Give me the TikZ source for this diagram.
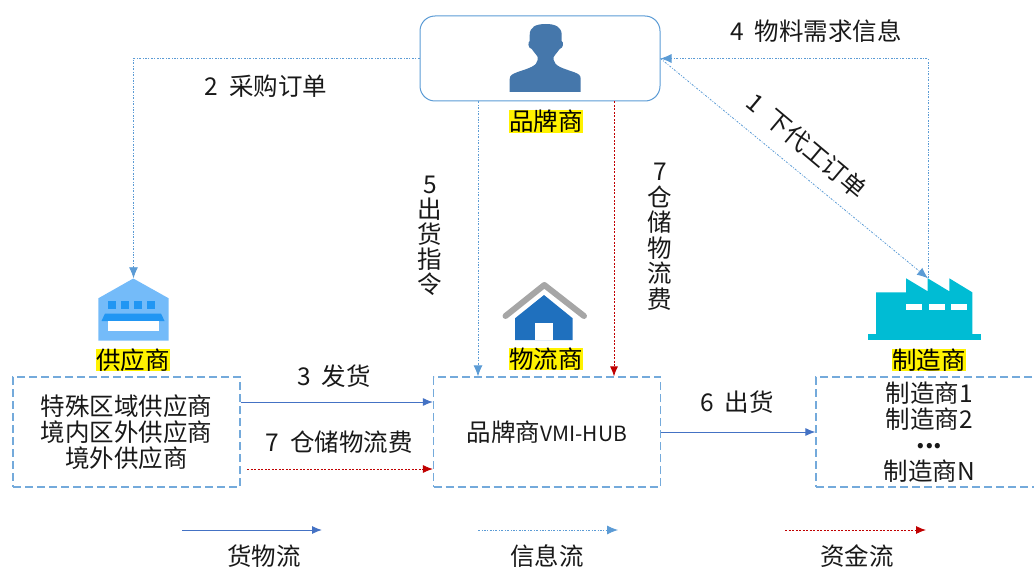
\documentclass[tikz,border=0pt]{standalone}
\usepackage{fontspec}
\setmainfont{Noto Sans CJK SC}
\usetikzlibrary{arrows.meta}
\definecolor{boxblue}{HTML}{5B9BD5}
\definecolor{goodsblue}{HTML}{4472C4}
\definecolor{moneyred}{HTML}{C00000}
\tikzset{
  txt/.style={font=\fontsize{24.5}{26}\selectfont,inner sep=0pt,text=black!90,align=center},
  tag/.style={txt,fill=yellow,inner sep=0pt,text=black},
  partbox/.style={draw=boxblue!85,dash pattern=on 8pt off 4pt,line width=1.2pt,minimum width=227pt,minimum height=110pt,inner sep=0pt},
  iconbox/.style={minimum width=70pt,minimum height=62pt,inner sep=0pt},
  goods/.style={goodsblue,line width=1pt,-{Latex[length=10pt,width=8pt]}},
  info/.style={boxblue,line width=.8pt,dash pattern=on 2pt off 1.5pt on .8pt off 1.5pt,-{Latex[length=11pt,width=9pt]}},
  money/.style={moneyred,line width=.9pt,dash pattern=on 2pt off 1.5pt,-{Latex[length=10pt,width=8pt]}}
}
\begin{document}
\begin{tikzpicture}[x=1pt,y=-1pt]
   \useasboundingbox (0,0) rectangle (1034,567);
   % parts
   \node[draw=boxblue,line width=1pt,rounded corners=15pt,minimum width=240pt,minimum height=85pt] (brand) at (540,58.5) {};
   \node[partbox,txt] (supply) at (126.5,432) {特殊区域供应商\\境内区外供应商\\境外供应商};
   \node[partbox,txt] (hub) at (547,432) {品牌商{\fontsize{21}{26}\selectfont VMI-HUB}};
   \node[partbox,txt] (maker) at (929.5,432) {制造商1\\制造商2\\\raisebox{6pt}{\bfseries ...}\\制造商N};
   \node[iconbox] (supicon) at (133.5,309.5) {};
   \node[iconbox] (makicon) at (928,309.5) {};
   % brand icon
   \begin{scope}[shift={(545.7,0)}]
   \fill[color={rgb,255:red,69;green,119;blue,171}] (0,24) .. controls (-10,24) and (-16,27) .. (-16,35)
      -- (-16,41) .. controls (-18,42) and (-18,48) .. (-14,49) .. controls (-12,52) and (-9,55) .. (-8,57)
      -- (-8,60) .. controls (-9,66) and (-16,68) .. (-28,72) .. controls (-33,74) and (-36,75) .. (-36,79)
      -- (-36,92) -- (35,92) -- (35,79) .. controls (35,75) and (33,74) .. (28,72)
      .. controls (16,68) and (9,66) .. (8,60) -- (8,57) .. controls (9,55) and (12,52) .. (14,49)
      .. controls (18,48) and (18,42) .. (16,41) -- (16,35) .. controls (16,27) and (10,24) .. (0,24) -- cycle;
   \end{scope}
   % supplier icon
   \fill[color={rgb,255:red,116;green,187;blue,249}] (98.3,298.3) -- (133.3,278.5) -- (168.7,298.3) -- (168.7,340.7) -- (98.3,340.7) -- cycle;
   \foreach \wx in {107.7,121,134,147}
      \fill[color={rgb,255:red,33;green,150;blue,243}] (\wx,300.5) rectangle ++(8,8);
   \fill[color={rgb,255:red,33;green,150;blue,243}] (105,313.5) -- (161,313.5) -- (164.5,321) -- (101.5,321) -- cycle;
   \fill[white] (107.7,321) rectangle (159,330.7);
   % house icon
   \draw[color=black!35,line width=6pt,line cap=round,line join=round] (505.5,316) -- (544.3,285) -- (584,316);
   \fill[color={rgb,255:red,31;green,112;blue,190}] (515,318.3) -- (544,295) -- (572.7,318.3) -- (572.7,340) -- (515,340) -- cycle;
   \fill[white] (535,323.3) rectangle (552.7,340);
   % factory icon
   \fill[color={rgb,255:red,0;green,188;blue,212}] (867.7,334.3) rectangle (980.7,340);
   \fill[color={rgb,255:red,0;green,188;blue,212}] (876,334.3) -- (876,292.3) -- (906,292.3) -- (906,278.3) -- (927.7,291.3) -- (927.7,278.3)
      -- (949.3,291.3) -- (949.3,278.3) -- (972.3,292.3) -- (972.3,334.3) -- cycle;
   \foreach \wx in {906,928.7,951.3}
      \fill[white] (\wx,304) rectangle ++(16,6);
   % yellow tags
   \node[tag] (brandtag) at (546,121.5) {品牌商};
   \node[tag] (suptag) at (133,360) {供应商};
   \node[tag] (hubtag) at (546,359) {物流商};
   \node[tag] (maktag) at (929,360) {制造商};
   % flows
   \draw[info] (brand.west) -| (supicon.north);
   \draw[info] (makicon.north) |- (brand.east);
   \draw[info] (brand.east) -- (makicon.north);
   \draw[info] ([xshift=-62pt]brand.south) -- ([xshift=-69pt]hub.north);
   \draw[money] ([xshift=74pt]brand.south) -- ([xshift=67pt]hub.north);
   \draw[goods] ([yshift=30pt]supply.east) -- ([yshift=30pt]hub.west);
   \coordinate (feestart) at (247,469);
   \draw[money] (feestart) -- ([yshift=-37pt]hub.west);
   \draw[goods] (hub.east) -- (maker.west);
   % labels
   \node[txt] (lab2) at (266,86) {2~~采购订单};
   \node[txt] (lab4) at (816,31) {4~~物料需求信息};
   \node[txt,rotate=-40] (lab1) at (807,146) {1~~下代工订单};
   \node[txt] (lab5) at (430,236) {5\\[-1pt]出\\[-1pt]货\\[-1pt]指\\[-1pt]令};
   \node[txt] (lab7a) at (660,236.5) {7\\[-.5pt]仓\\[-.5pt]储\\[-.5pt]物\\[-.5pt]流\\[-.5pt]费};
   \node[txt] (lab3) at (334,376) {3~~发货};
   \node[txt] (lab7b) at (339,442) {7~~仓储物流费};
   \node[txt] (lab6) at (737,402) {6~~出货};
   % legend
   \coordinate (g1) at (182,530); \coordinate (g2) at (322,530);
   \coordinate (i1) at (478,530); \coordinate (i2) at (618,530);
   \coordinate (m1) at (785,530); \coordinate (m2) at (926,530);
   \draw[goods] (g1) -- (g2);
   \draw[info] (i1) -- (i2);
   \draw[money] (m1) -- (m2);
   \node[txt] (legg) at (264,556) {货物流};
   \node[txt] (legi) at (547,556) {信息流};
   \node[txt] (legm) at (857,556) {资金流};
\end{tikzpicture}
\end{document}
